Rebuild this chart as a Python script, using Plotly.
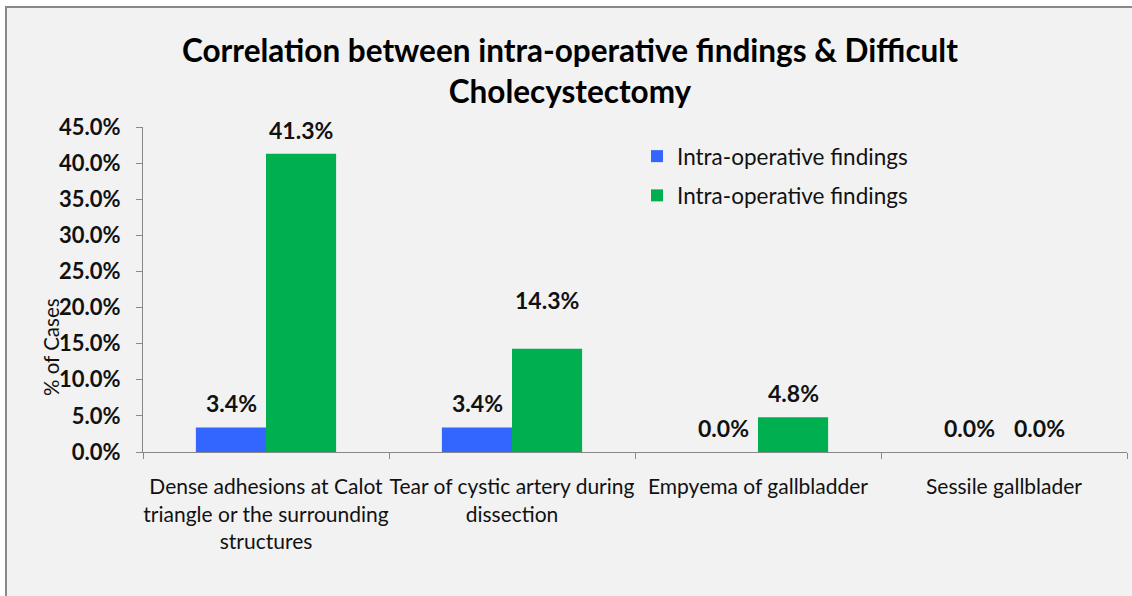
import plotly.graph_objects as go

categories = [
    "Dense adhesions at Calot<br>triangle or the surrounding<br>structures",
    "Tear of cystic artery during<br>dissection",
    "Empyema of gallbladder",
    "Sessile gallblader",
]
series_names = ["Intra-operative findings", "Intra-operative findings"]
series1 = [3.4, 3.4, 0.0, 0.0]
series2 = [41.3, 14.3, 4.8, 0.0]
colors = ["#3366FF", "#00B050"]
y_ticks = [0, 5, 10, 15, 20, 25, 30, 35, 40, 45]

FONT = "Lato"
W, H = 1132, 596

fig = go.Figure()
for i, (name, vals, col) in enumerate(zip(series_names, [series1, series2], colors)):
    fig.add_trace(go.Bar(x=categories, y=vals, name=name, legendgroup=f"g{i}",
                         marker=dict(color=col, line=dict(width=0))))

# data labels
label_shift = {(1, 1): 49}
for si, vals in enumerate([series1, series2]):
    for ci, v in enumerate(vals):
        fig.add_annotation(
            x=categories[ci], y=v, xref="x", yref="y",
            text=f"{v:.1f}%", showarrow=False,
            xshift=(-35 if si == 0 else 35),
            yshift=label_shift.get((ci, si), 24),
            yanchor="middle",
            font=dict(family=FONT, size=23, color="#111", weight="bold"),
        )

# frame
fig.add_shape(type="rect", xref="paper", yref="paper",
              x0=6 / W, x1=1.05, y0=-0.05, y1=1 - 7 / H,
              fillcolor="#F2F2F2", line=dict(color="#888888", width=2), layer="below")

fig.add_annotation(
    x=570 / W, y=1 - 70 / H, xref="paper", yref="paper",
    text="Correlation between intra-operative findings & Difficult<br>Cholecystectomy",
    showarrow=False, xanchor="center", yanchor="middle",
    font=dict(family=FONT, size=31.5, color="#000", weight="bold"),
)
fig.add_annotation(
    x=51 / W, y=1 - 347 / H, xref="paper", yref="paper",
    text="% of Cases", textangle=-90, showarrow=False,
    xanchor="center", yanchor="middle",
    font=dict(family=FONT, size=20.5, color="#111"),
)

fig.update_layout(
    width=W, height=H,
    margin=dict(l=0, r=0, t=0, b=0),
    paper_bgcolor="white",
    plot_bgcolor="rgba(0,0,0,0)",
    barmode="group", bargap=0.43, bargroupgap=0,
    showlegend=True,
    legend=dict(x=637 / W, y=1 - 135 / H, xanchor="left", yanchor="top",
                bgcolor="rgba(0,0,0,0)", tracegroupgap=7,
                font=dict(family=FONT, size=22.5, color="#111"),
                itemsizing="constant"),
    xaxis=dict(domain=[143 / W, 1127 / W], showline=True, linecolor="#888888", linewidth=1,
               ticks="outside", tickson="boundaries", ticklen=6, tickcolor="#888888",
               ticklabelstandoff=16, tickangle=0, automargin=False,
               tickfont=dict(family=FONT, size=21, color="#111"), showgrid=False),
    yaxis=dict(domain=[(H - 452) / H, (H - 127) / H], range=[0, 45], tickvals=y_ticks,
               ticktext=[f"{t:.1f}%" for t in y_ticks],
               showline=True, linecolor="#888888", linewidth=1,
               ticks="outside", ticklen=6, tickcolor="#888888",
               ticklabelstandoff=11, automargin=False,
               tickfont=dict(family=FONT, size=22, color="#111", weight="bold"),
               showgrid=False, zeroline=False),
)

fig.write_html("out.html")
